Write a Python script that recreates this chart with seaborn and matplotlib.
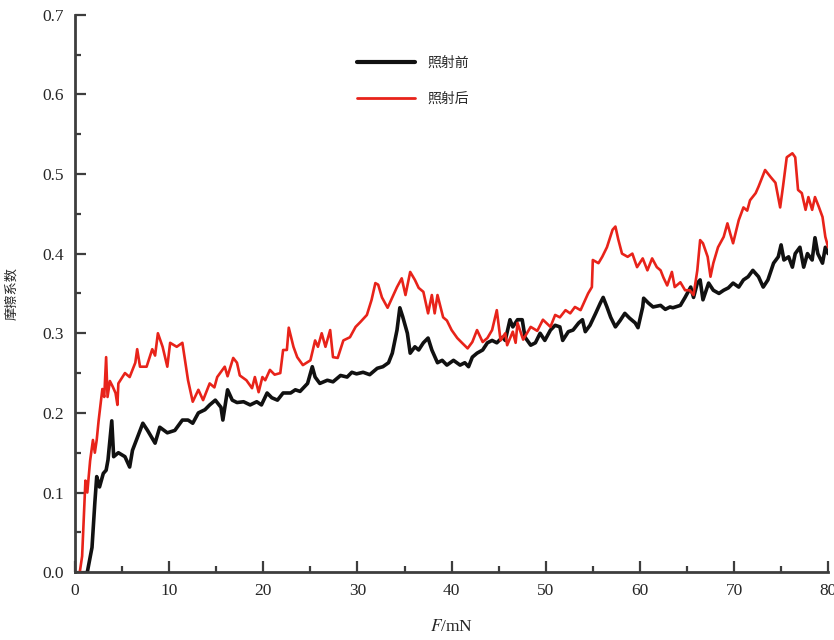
import pandas as pd
import seaborn as sns
import matplotlib.pyplot as plt
from matplotlib.ticker import MultipleLocator

# 照射后 (after irradiation)
red_x = [0.5, 0.75, 0.9, 1.1, 1.3, 1.6, 1.9, 2.1, 2.3, 2.5, 2.9, 3.1, 3.3, 3.45, 3.7, 4.0, 4.3, 4.5, 4.6,
         5.3, 5.8, 6.4, 6.6, 6.9, 7.6, 8.2, 8.5, 8.8, 9.3, 9.8, 10.1, 10.8, 11.4, 12.0, 12.5, 13.1, 13.6,
         14.3, 14.8, 15.1, 15.9, 16.2, 16.8, 17.2, 17.5, 18.2, 18.8, 19.1, 19.5, 19.9, 20.2, 20.7, 21.2,
         21.8, 22.1, 22.5, 22.7, 23.2, 23.6, 24.2, 25.0, 25.5, 25.8, 26.2, 26.6, 27.1, 27.4, 27.9, 28.5,
         29.2, 29.8, 30.3, 31.0, 31.5, 31.9, 32.2, 32.6, 33.2, 33.7, 34.2, 34.7, 35.1, 35.6, 36.1, 36.5,
         37.0, 37.5, 37.9, 38.2, 38.5, 39.1, 39.5, 40.0, 40.6, 41.1, 41.7, 42.2, 42.7, 43.3, 43.8, 44.3,
         44.8, 45.2, 45.7, 45.9, 46.5, 46.8, 47.0, 47.6, 48.4, 49.1, 49.7, 50.5, 51.0, 51.5, 52.1, 52.6,
         53.1, 53.7, 54.2, 54.5, 54.9, 55.0, 55.6, 56.0, 56.5, 57.1, 57.4, 57.7, 58.1, 58.7, 59.2, 59.7,
         60.3, 60.8, 61.3, 61.8, 62.2, 62.5, 62.9, 63.4, 63.7, 64.3, 64.8, 65.3, 65.7, 66.1, 66.4, 66.7,
         67.2, 67.5, 67.8, 68.3, 68.9, 69.3, 69.6, 69.9, 70.5, 71.0, 71.4, 71.7, 72.3, 72.6, 73.0, 73.3,
         73.9, 74.4, 74.9, 75.2, 75.6, 76.2, 76.5, 76.8, 77.2, 77.6, 77.9, 78.3, 78.6, 79.0, 79.4, 79.7, 80.0]
red_y = [0.0, 0.02, 0.06, 0.115, 0.10, 0.14, 0.166, 0.15, 0.166, 0.19, 0.23, 0.22, 0.27, 0.22, 0.24, 0.233,
         0.225, 0.21, 0.237, 0.25, 0.245, 0.263, 0.28, 0.258, 0.258, 0.28, 0.272, 0.30, 0.283, 0.258, 0.288,
         0.283, 0.288, 0.241, 0.214, 0.229, 0.216, 0.237, 0.232, 0.245, 0.258, 0.246, 0.269, 0.263, 0.247,
         0.241, 0.231, 0.245, 0.226, 0.245, 0.241, 0.254, 0.248, 0.25, 0.279, 0.279, 0.307, 0.283, 0.27,
         0.26, 0.266, 0.291, 0.283, 0.30, 0.283, 0.304, 0.27, 0.269, 0.291, 0.295, 0.308, 0.314, 0.323,
         0.342, 0.363, 0.361, 0.345, 0.332, 0.345, 0.358, 0.369, 0.348, 0.377, 0.367, 0.357, 0.352, 0.325,
         0.348, 0.325, 0.348, 0.32, 0.316, 0.304, 0.294, 0.288, 0.281, 0.289, 0.304, 0.289, 0.294, 0.304,
         0.329, 0.291, 0.30, 0.285, 0.302, 0.288, 0.313, 0.292, 0.308, 0.303, 0.317, 0.308, 0.323, 0.32,
         0.329, 0.325, 0.333, 0.329, 0.342, 0.35, 0.358, 0.392, 0.388, 0.396, 0.408, 0.43, 0.434, 0.418,
         0.40, 0.396, 0.40, 0.383, 0.394, 0.379, 0.394, 0.383, 0.379, 0.37, 0.36, 0.377, 0.358, 0.364,
         0.354, 0.354, 0.348, 0.379, 0.417, 0.413, 0.396, 0.371, 0.388, 0.408, 0.421, 0.438, 0.425, 0.413,
         0.442, 0.458, 0.454, 0.467, 0.476, 0.484, 0.496, 0.505, 0.496, 0.489, 0.458, 0.484, 0.521, 0.526,
         0.521, 0.48, 0.476, 0.455, 0.471, 0.455, 0.471, 0.459, 0.446, 0.421, 0.408]

# 照射前 (before irradiation)
black_x = [1.3, 1.8, 2.1, 2.3, 2.6, 3.0, 3.3, 3.5, 3.9, 4.1, 4.6, 5.3, 5.8, 6.1, 6.9, 7.2, 7.7, 8.5, 9.0,
           9.8, 10.6, 11.4, 12.0, 12.5, 13.1, 13.8, 14.3, 14.9, 15.5, 15.7, 16.2, 16.7, 17.2, 17.9, 18.6,
           19.3, 19.8, 20.4, 20.9, 21.5, 22.1, 22.9, 23.4, 23.9, 24.7, 25.2, 25.5, 26.0, 26.8, 27.4, 28.2,
           28.9, 29.4, 29.9, 30.6, 31.3, 32.1, 32.7, 33.3, 33.7, 34.2, 34.5, 34.8, 35.3, 35.6, 36.1, 36.5,
           37.0, 37.5, 37.9, 38.5, 39.0, 39.5, 40.2, 40.9, 41.4, 41.8, 42.2, 42.7, 43.3, 43.8, 44.3, 44.8,
           45.4, 45.7, 46.2, 46.5, 47.0, 47.5, 47.8, 48.4, 48.9, 49.4, 49.9, 50.5, 51.0, 51.5, 51.8, 52.4,
           52.9, 53.5, 53.9, 54.2, 54.7, 55.3, 55.8, 56.1, 56.5, 56.9, 57.4, 57.9, 58.4, 58.9, 59.5, 59.8,
           60.3, 60.4, 60.9, 61.4, 62.2, 62.7, 63.2, 63.5, 64.3, 64.8, 65.4, 65.7, 66.1, 66.4, 66.7, 67.3,
           67.8, 68.4, 68.9, 69.4, 69.9, 70.5, 71.0, 71.5, 72.0, 72.6, 73.1, 73.6, 74.2, 74.7, 75.0, 75.3,
           75.8, 76.2, 76.5, 77.0, 77.4, 77.8, 78.3, 78.6, 78.9, 79.4, 79.7, 80.0]
black_y = [0.0, 0.031, 0.087, 0.12, 0.107, 0.124, 0.128, 0.141, 0.19, 0.145, 0.15, 0.145, 0.132, 0.153,
           0.178, 0.187, 0.178, 0.162, 0.182, 0.175, 0.178, 0.191, 0.191, 0.187, 0.20, 0.204, 0.21, 0.216,
           0.207, 0.191, 0.229, 0.216, 0.213, 0.214, 0.21, 0.214, 0.21, 0.225, 0.219, 0.216, 0.225, 0.225,
           0.229, 0.227, 0.237, 0.258, 0.245, 0.237, 0.241, 0.239, 0.247, 0.245, 0.251, 0.249, 0.251, 0.248,
           0.256, 0.258, 0.263, 0.275, 0.304, 0.332, 0.321, 0.30, 0.275, 0.283, 0.279, 0.288, 0.294, 0.279,
           0.263, 0.266, 0.26, 0.266, 0.26, 0.263, 0.258, 0.27, 0.275, 0.279, 0.288, 0.291, 0.288, 0.295,
           0.291, 0.317, 0.308, 0.317, 0.317, 0.295, 0.285, 0.288, 0.30, 0.291, 0.304, 0.31, 0.308, 0.291,
           0.302, 0.304, 0.313, 0.317, 0.302, 0.31, 0.325, 0.338, 0.345, 0.333, 0.32, 0.308, 0.316, 0.325,
           0.319, 0.313, 0.307, 0.333, 0.344, 0.338, 0.333, 0.335, 0.330, 0.333, 0.332, 0.335, 0.345, 0.358,
           0.345, 0.363, 0.367, 0.342, 0.363, 0.354, 0.350, 0.354, 0.357, 0.363, 0.358, 0.367, 0.371, 0.379,
           0.371, 0.358, 0.367, 0.388, 0.396, 0.411, 0.392, 0.396, 0.383, 0.40, 0.408, 0.383, 0.40, 0.392,
           0.42, 0.40, 0.388, 0.408, 0.40]

sns.set_style("ticks")
plt.rcParams['font.family'] = ['Liberation Serif', 'Noto Sans CJK SC']
plt.rcParams['mathtext.fontset'] = 'stix'

spine_color = '#3d3d3d'

fig = plt.figure(figsize=(8.34, 6.4), dpi=100)
ax = fig.add_axes([0.09, 0.106, 0.903, 0.871])

before = pd.DataFrame({'F': black_x, 'mu': black_y})
after = pd.DataFrame({'F': red_x, 'mu': red_y})

sns.lineplot(data=before, x='F', y='mu', ax=ax, color='#111111', linewidth=2.6,
             estimator=None, sort=False, label='照射前')
sns.lineplot(data=after, x='F', y='mu', ax=ax, color='#e8231a', linewidth=1.9,
             estimator=None, sort=False, label='照射后')

ax.set_xlim(0, 80)
ax.set_ylim(0, 0.7)
ax.xaxis.set_major_locator(MultipleLocator(10))
ax.xaxis.set_minor_locator(MultipleLocator(5))
ax.yaxis.set_major_locator(MultipleLocator(0.1))
ax.yaxis.set_minor_locator(MultipleLocator(0.05))
ax.yaxis.set_major_formatter(plt.FormatStrFormatter('%.1f'))

sns.despine(ax=ax)
for side in ['left', 'bottom']:
    ax.spines[side].set_color(spine_color)
    ax.spines[side].set_linewidth(2)

ax.tick_params(which='major', direction='in', length=8, width=1.6, color=spine_color,
               labelsize=12.5, pad=8)
ax.tick_params(which='minor', direction='in', length=4.5, width=1.6, color=spine_color)

ax.set_xlabel(r'$F$/mN', fontsize=12.5, labelpad=14)
ax.set_ylabel('摩擦系数', fontsize=9.5, family=['Noto Sans CJK SC'], labelpad=17)

leg = ax.legend(loc='center left', bbox_to_anchor=(0.374, 0.882), frameon=False,
                borderpad=0, borderaxespad=0, handlelength=4.2, handletextpad=0.9,
                labelspacing=1.6, prop={'family': 'Noto Sans CJK SC', 'size': 10})
leg.get_lines()[0].set_linewidth(3)
leg.get_lines()[1].set_linewidth(2)

fig.savefig('out.png', dpi=100)
